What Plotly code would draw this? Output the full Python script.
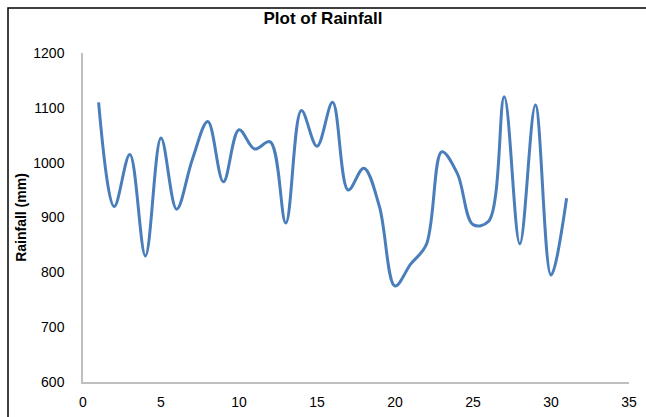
import plotly.graph_objects as go

# Daily rainfall readings
days = list(range(1, 32))
rainfall_mm = [1110, 920, 1015, 830, 1045, 915, 1005, 1075, 965, 1060,
               1025, 1038, 890, 1095, 1030, 1110, 950, 990, 920, 775,
               815, 850, 1020, 980, 887, 893, 1120, 852, 1105, 795, 935]

x_ticks = [0, 5, 10, 15, 20, 25, 30, 35]
y_ticks = [600, 700, 800, 900, 1000, 1100, 1200]

W, H = 646, 417
L, R, T, B = 83, 17, 53, 35
pw, ph = W - L - R, H - T - B

fig = go.Figure()
fig.add_trace(go.Scatter(
    x=days, y=rainfall_mm, mode="lines",
    line=dict(color="#4A7EBB", width=3, shape="spline", smoothing=1.0),
    showlegend=False, hoverinfo="x+y",
))

def px_x(p):
    return (p - L) / pw

def px_y(p):
    return (H - B - p) / ph

font_family = "Liberation Sans, Arial, sans-serif"
axis_font = dict(family=font_family, size=14, color="#000000")

fig.update_layout(
    width=W, height=H,
    margin=dict(l=L, r=R, t=T, b=B, autoexpand=False),
    paper_bgcolor="white", plot_bgcolor="white",
    title=dict(text="<b>Plot of Rainfall</b>", x=0.5, xanchor="center",
               y=1 - 18 / H, yanchor="middle",
               font=dict(family=font_family, size=17, color="#000000")),
    xaxis=dict(range=[0, 35], tickvals=x_ticks, showgrid=False, zeroline=False,
               showline=True, linecolor="#BFBFBF", linewidth=1.5, automargin=False,
               ticks="", tickfont=axis_font, ticklabelstandoff=6),
    yaxis=dict(range=[600, 1200], tickvals=y_ticks, showgrid=False, zeroline=False,
               showline=True, linecolor="#BFBFBF", linewidth=1.5, automargin=False,
               ticks="", tickfont=axis_font, ticklabelstandoff=14,
               title=dict(text="<b>Rainfall (mm)</b>", standoff=3,
                          font=dict(family=font_family, size=14, color="#000000"))),
    shapes=[dict(type="rect", xref="paper", yref="paper",
                 x0=px_x(8), x1=px_x(W + 10), y0=px_y(H + 10), y1=px_y(8),
                 line=dict(color="#000000", width=1.5), fillcolor="rgba(0,0,0,0)",
                 layer="below")],
)

fig.write_html("out.html")
